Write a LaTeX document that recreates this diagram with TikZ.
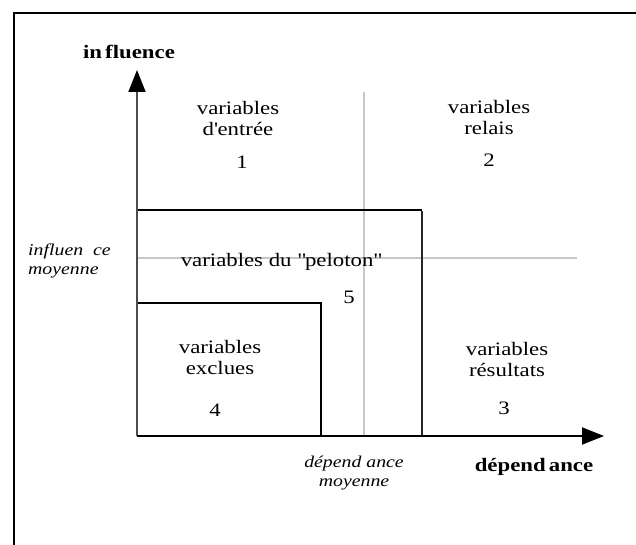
\documentclass[tikz,border=0pt]{standalone}
\usepackage{fontspec}
\setmainfont{Liberation Serif}[FakeStretch=1.2]
\usetikzlibrary{arrows.meta}
\tikzset{zone/.style={font=\fontsize{19}{21}\selectfont,align=center,inner sep=0pt},
  axlabel/.style={font=\fontsize{19}{21}\selectfont\bfseries,inner sep=0pt},
  moyenne/.style={font=\fontsize{16.5}{19}\selectfont\itshape,inner sep=0pt},
  median/.style={black!22,line width=2pt},
  bord/.style={line width=2pt},
  axe/.style={line width=2pt,-{Triangle[length=22pt,width=17pt,color=black]}}}

\begin{document}
\begin{tikzpicture}[x=1pt,y=-1pt]
\useasboundingbox (0,0) rectangle (636,545);
% cadre
\draw[line width=2.5pt] (14,545) -- (14,13) -- (636,13);
\coordinate (o) at (137,436);
\coordinate (ytip) at (137,70);
\coordinate (xtip) at (604,436);
% lignes moyennes
\draw[median] (137,258) -- (577,258);
\draw[median] (364,92) -- (364,436);
% zones 5 et 4
\draw[bord] (137,210) -- (422,210);
\draw[bord,black!85] (422,211) -- (422,436);
\draw[bord] (137,303) -- (321,303) -- (321,436);
% axes
\draw[axe,black!70] (o) -- (ytip);
\draw[axe] (o) -- (xtip);
\node[axlabel] (infl) at (129,52) {in\,fluence};
\node[axlabel] (dep) at (534,467) {d\'epend\,ance};
\node[moyenne,align=left,anchor=west] (inflmoy) at (28,261) {influen\ \ ce\\moyenne};
\node[moyenne,align=center] (depmoy) at (354,473) {d\'epend ance\\moyenne};
% les cinq zones
\node[zone] (z1) at (238,119) {variables\\d\textquotesingle entr\'ee};
\node[zone] (n1) at (242,162) {1};
\node[zone] (z2) at (489,118) {variables\\relais};
\node[zone] (n2) at (489,160) {2};
\node[zone] (z3) at (507,359) {variables\\r\'esultats};
\node[zone] (n3) at (504,408) {3};
\node[zone] (z4) at (220,357) {variables\\exclues};
\node[zone] (n4) at (215,410) {4};
\node[zone] (z5) at (281,262) {variables du \textquotedbl peloton\textquotedbl};
\node[zone] (n5) at (349,297) {5};
\end{tikzpicture}
\end{document}
